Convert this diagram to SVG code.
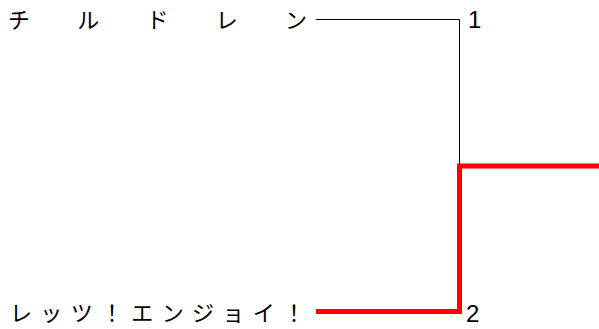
<svg xmlns="http://www.w3.org/2000/svg" width="599" height="329" viewBox="0 0 599 329">
<style>
.t{font-family:"Noto Sans CJK JP","Noto Sans CJK SC",sans-serif;font-size:22px;fill:#000}
.n{font-family:"Liberation Sans",Arial,sans-serif;font-size:24px;fill:#000}
.b{fill:none;stroke:#000;stroke-width:1}
.w{fill:none;stroke:#ff0000;stroke-width:5}
</style>
<rect width="599" height="329" fill="#fff"/>
<g id="node-1">
<text class="t" x="8" y="28" textLength="299" lengthAdjust="spacing">チルドレン</text>
<text class="n" x="468" y="28">1</text>
</g>
<g id="node-2">
<text class="t" x="10" y="321" textLength="295" lengthAdjust="spacing">レッツ！エンジョイ！</text>
<text class="n" x="466" y="322">2</text>
</g>
<g id="connectors">
<path class="b" d="M316 19.5 H459.5 V166"/>
<path class="w" d="M316 311.5 H459.5 V166 H599"/>
</g>
</svg>
